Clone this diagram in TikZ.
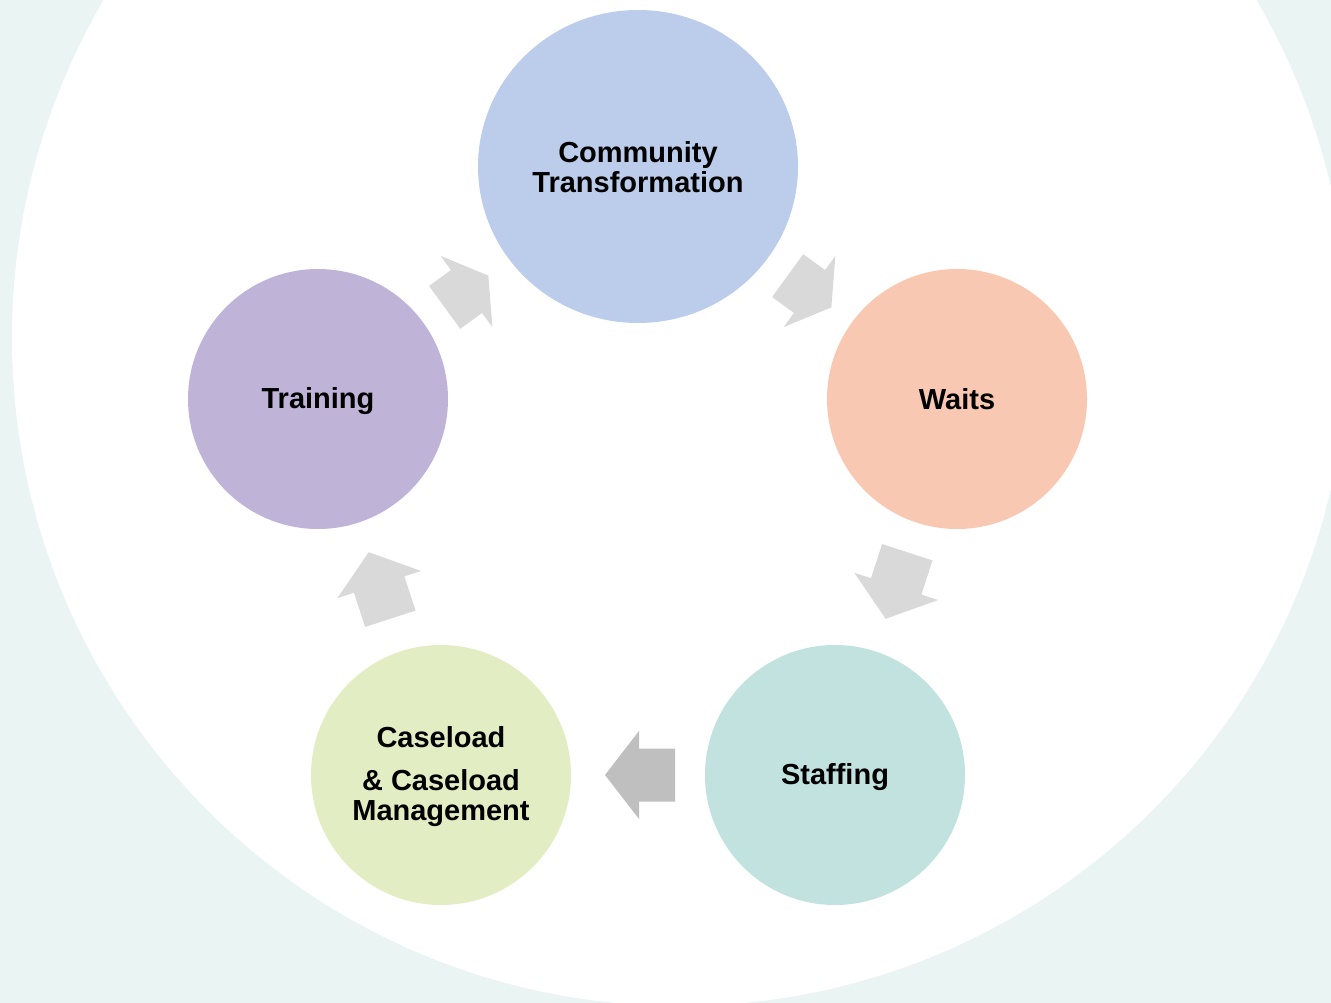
\documentclass[tikz,border=0pt]{standalone}
\usepackage{fontspec}
\setmainfont{Liberation Sans}
\usetikzlibrary{shapes.geometric}
\definecolor{bgc}{RGB}{234,244,242}
\definecolor{ccomm}{RGB}{187,205,235}
\definecolor{cwaits}{RGB}{248,200,178}
\definecolor{cstaff}{RGB}{193,226,223}
\definecolor{ccase}{RGB}{227,237,196}
\definecolor{ctrain}{RGB}{191,180,216}
\definecolor{carrow}{RGB}{217,217,217}
\definecolor{carrowdark}{RGB}{191,191,191}
\newcommand\cyclearrow[6]{%
  \fill[#1, shift={#2}, rotate=#3]
    (#4,-26.5) -- (#5,-26.5) -- (#5,-44) -- (#6,0) -- (#5,44) -- (#5,26.5) -- (#4,26.5) -- cycle;}
\begin{document}
\begin{tikzpicture}[x=1pt,y=-1pt,
  stage/.style={circle, inner sep=0pt, minimum size=260pt},
  label text/.style={inner sep=0pt, align=center,
    font=\fontsize{29}{30}\selectfont\bfseries, text=black}]
\useasboundingbox (0,0) rectangle (1331,1003);
\begin{scope}
  \clip (0,0) rectangle (1331,1003);
  \fill[bgc] (0,0) rectangle (1331,1003);
  \fill[white] (680,338) circle[radius=668];
\end{scope}
\node[stage, ellipse, minimum width=320pt, minimum height=313pt, fill=ccomm] (comm) at (638,166.5) {};
\node[label text] (commtext) at ([yshift=-0.5pt]comm.center) {Community\\Transformation};
\node[stage, fill=cwaits] (waits) at (957,399) {};
\node[label text] (waitstext) at ([yshift=0pt]waits.center) {Waits};
\node[stage, fill=cstaff] (staff) at (835,775) {};
\node[label text] (stafftext) at ([yshift=-2pt]staff.center) {Staffing};
\node[stage, fill=ccase] (case) at (441,775) {};
\node[label text] (casetext) at ([yshift=-2pt]case.center) {Caseload\\[13pt]\& Caseload\\Management};
\node[stage, fill=ctrain] (train) at (318,399) {};
\node[label text] (traintext) at ([yshift=-2pt]train.center) {Training};
\cyclearrow{carrow}{(466.5,291.5)}{36}{-27}{0}{27}
\cyclearrow{carrow}{(809.5,291.5)}{-36}{-27}{0}{27}
\cyclearrow{carrow}{(896.5,585.5)}{-108}{-35}{1}{35}
\cyclearrow{carrowdark}{(640,775)}{180}{-35}{1}{35}
\cyclearrow{carrow}{(379.5,585.5)}{108}{-35}{1}{35}
\end{tikzpicture}
\end{document}
